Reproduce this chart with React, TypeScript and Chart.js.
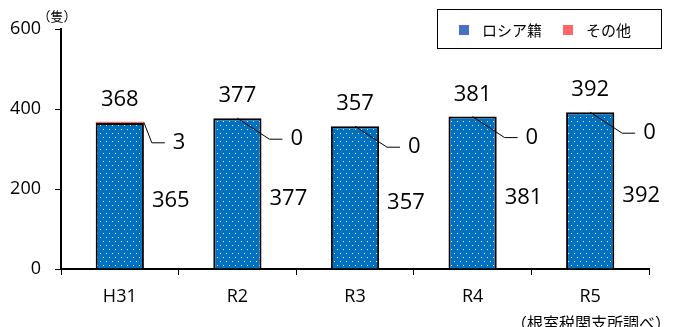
import React, { useEffect, useRef } from 'react';
import { Chart, registerables } from 'chart.js';

Chart.register(...registerables);

const categories = ['H31', 'R2', 'R3', 'R4', 'R5'];
const russian = [365, 377, 357, 381, 392];
const others = [3, 0, 0, 0, 0];
const seriesNames = ['ロシア籍', 'その他'];
const yTicks = [0, 200, 400, 600];
const unitLabel = '（隻）';
const sourceLabel = '（根室税関支所調べ）';

const BAR_BLUE = '#0070C0';
const LEGEND_BLUE = '#4472C4';
const RED = '#FF6666';
const NUM_FONT = '"Open Sans", "Liberation Sans", sans-serif';
const JP_FONT = '"Noto Sans CJK JP", "Noto Sans", sans-serif';

function makePattern(ctx: CanvasRenderingContext2D) {
  const c = document.createElement('canvas');
  c.width = 6;
  c.height = 8;
  const g = c.getContext('2d') as CanvasRenderingContext2D;
  g.fillStyle = BAR_BLUE;
  g.fillRect(0, 0, 6, 8);
  g.fillStyle = '#ffffff';
  g.fillRect(1, 1, 1, 1);
  g.fillRect(4, 5, 1, 1);
  return ctx.createPattern(c, 'repeat') as CanvasPattern;
}

const labelPlugin = {
  id: 'customLabels',
  afterDatasetsDraw(chart: any) {
    const ctx: CanvasRenderingContext2D = chart.ctx;
    const m0 = chart.getDatasetMeta(0);
    const m1 = chart.getDatasetMeta(1);
    const ys = chart.scales.y;
    ctx.save();
    ctx.fillStyle = '#000';
    ctx.strokeStyle = '#000';
    ctx.lineWidth = 1;
    ctx.font = `22px ${NUM_FONT}`;
    ctx.textBaseline = 'middle';
    categories.forEach((_, i) => {
      const b0 = m0.data[i];
      const b1 = m1.data[i];
      const cx = b0.x;
      const half = b0.width / 2;
      const total = russian[i] + others[i];
      const topY = ys.getPixelForValue(total);
      ctx.textAlign = 'center';
      ctx.fillText(String(total), cx, topY - 22);
      ctx.textAlign = 'left';
      const midY = (b0.y + b0.base) / 2;
      ctx.fillText(String(russian[i]), cx + half + 8, midY + 5);
      const lx = cx + 53;
      const ly = topY + 21;
      const sx = others[i] > 0 ? cx + half : cx;
      const sy = others[i] > 0 ? (b1.y + b1.base) / 2 : topY;
      ctx.beginPath();
      ctx.moveTo(sx, sy);
      ctx.lineTo(lx - 21, ly);
      ctx.lineTo(lx - 8, ly);
      ctx.stroke();
      ctx.fillText(String(others[i]), lx, ly);
    });
    ctx.restore();
  },
  afterDraw(chart: any) {
    const ctx: CanvasRenderingContext2D = chart.ctx;
    ctx.save();
    ctx.strokeStyle = '#000';
    ctx.lineWidth = 1;
    ctx.strokeRect(437.5, 9.5, 224, 39);
    ctx.fillStyle = LEGEND_BLUE;
    ctx.fillRect(459, 25, 10, 10);
    ctx.fillStyle = RED;
    ctx.fillRect(563, 25, 10, 10);
    ctx.fillStyle = '#000';
    ctx.font = `15px ${JP_FONT}`;
    ctx.textBaseline = 'middle';
    ctx.textAlign = 'left';
    ctx.fillText(seriesNames[0], 482, 30);
    ctx.fillText(seriesNames[1], 586, 30);
    ctx.font = `13px ${JP_FONT}`;
    ctx.textAlign = 'center';
    ctx.fillText(unitLabel, 57, 16);
    ctx.font = `16px ${JP_FONT}`;
    ctx.fillText(sourceLabel, 591, 323);
    ctx.restore();
  },
};

export default function App() {
  const ref = useRef<HTMLCanvasElement>(null);
  useEffect(() => {
    const canvas = ref.current as HTMLCanvasElement;
    const ctx = canvas.getContext('2d') as CanvasRenderingContext2D;
    const pattern = makePattern(ctx);
    const chart = new Chart(canvas, {
      type: 'bar',
      data: {
        labels: categories,
        datasets: [
          {
            label: seriesNames[0],
            data: russian,
            backgroundColor: pattern,
            borderColor: '#000',
            borderWidth: 2,
            barPercentage: 0.41,
            categoryPercentage: 1,
          },
          {
            label: seriesNames[1],
            data: others,
            backgroundColor: RED,
            borderWidth: 0,
            barPercentage: 0.41,
            categoryPercentage: 1,
          },
        ],
      },
      options: {
        animation: false,
        responsive: false,
        devicePixelRatio: 1,
        layout: { padding: { top: 29, right: 26, left: 0, bottom: 0 } },
        plugins: { legend: { display: false }, tooltip: { enabled: false } },
        scales: {
          x: {
            stacked: true,
            grid: { drawOnChartArea: false, tickLength: 6, color: '#000', offset: true },
            border: { color: '#000', width: 2 },
            ticks: { color: '#000', font: { size: 18, family: NUM_FONT }, padding: 11, maxRotation: 0 },
            afterFit: (s: any) => {
              s.height = 58;
            },
          },
          y: {
            stacked: true,
            min: 0,
            max: 600,
            afterBuildTicks: (s: any) => {
              s.ticks = yTicks.map((v) => ({ value: v }));
            },
            grid: { drawOnChartArea: false, tickLength: 6, color: '#000' },
            border: { color: '#000', width: 2 },
            ticks: { color: '#000', font: { size: 18, family: NUM_FONT }, padding: 14 },
            afterFit: (s: any) => {
              s.width = 61;
            },
          },
        },
      },
      plugins: [labelPlugin],
    });
    return () => chart.destroy();
  }, []);
  return (
    <canvas
      ref={ref}
      width={675}
      height={327}
      style={{ position: 'absolute', left: 0, top: 0, display: 'block' }}
    />
  );
}
